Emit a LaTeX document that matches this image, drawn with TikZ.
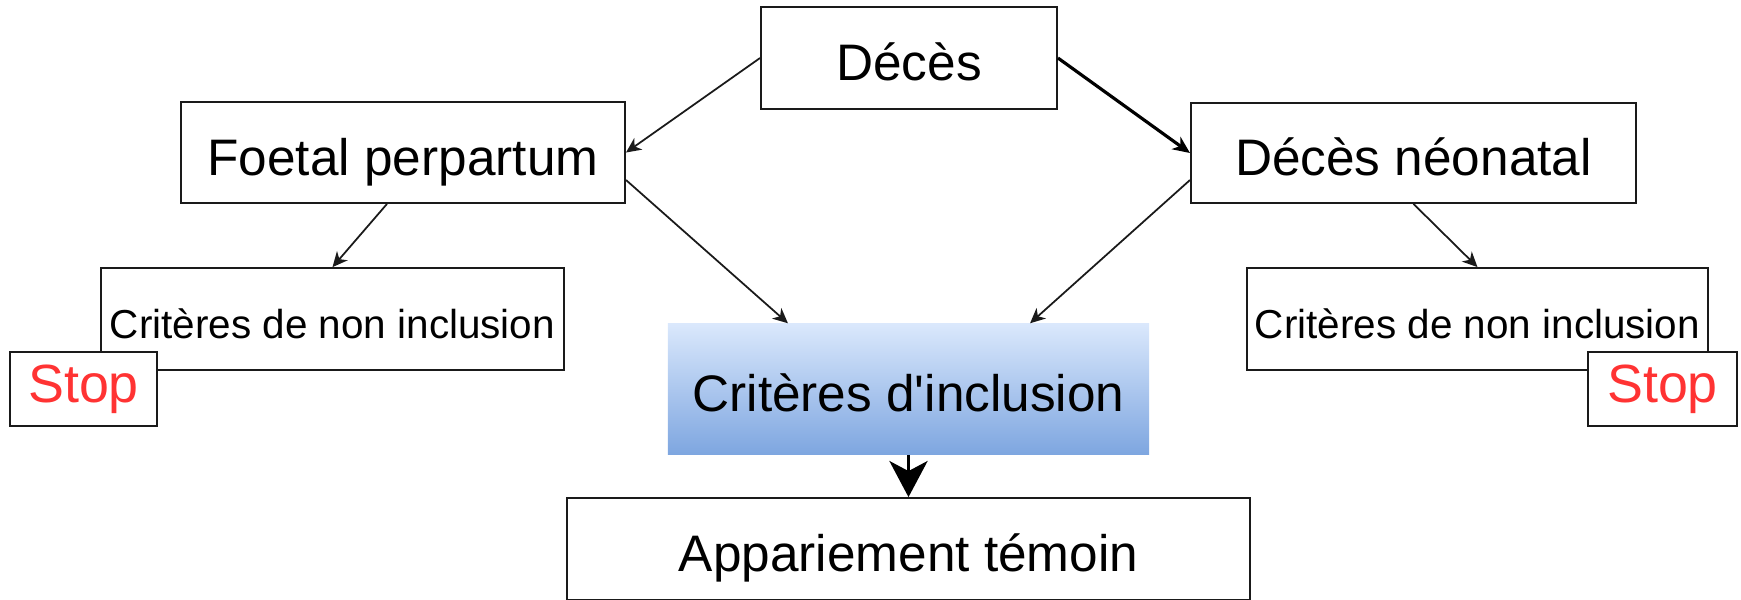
\documentclass[tikz,border=0pt]{standalone}
\usepackage{fontspec}
\setmainfont{Liberation Sans}
\newfontfamily\rawquotefont{Liberation Sans}
\usetikzlibrary{arrows.meta,calc}
\definecolor{inclTop}{HTML}{DAE8FC}
\definecolor{inclBot}{HTML}{7EA6E0}
\definecolor{stopRed}{HTML}{FF3333}
\definecolor{lineGray}{HTML}{1A1A1A}
\begin{document}
\begin{tikzpicture}[x=0.01cm,y=-0.01cm,
  box/.style={draw=lineGray, line width=0.5pt, fill=white, inner sep=0pt,
    text height=13.05pt, text depth=0pt,
    font=\fontsize{14.6}{17}\selectfont},
  smallbox/.style={box, text height=10.8pt, font=\fontsize{11.5}{13}\selectfont},
  stopbox/.style={draw=lineGray, line width=0.5pt, fill=white, inner sep=0pt,
    text=stopRed, font=\fontsize{15.3}{18}\selectfont,
    minimum height=0.74cm},
  inclbox/.style={draw=none, inner sep=0pt, top color=inclTop, bottom color=inclBot,
    text height=13.05pt, text depth=0pt,
    font=\fontsize{14.6}{17}\selectfont},
  conn/.style={draw=lineGray, line width=0.5pt,
    -{Stealth[length=0.15cm, width=0.14cm, inset=0.045cm]}},
  thickconn/.style={draw=black, line width=0.9pt,
    -{Stealth[length=0.17cm, width=0.15cm, inset=0.05cm]}},
  bigconn/.style={draw=black, line width=1.1pt,
    -{Stealth[length=0.36cm, width=0.38cm, inset=0.1cm]}}
]
\useasboundingbox (0,0) rectangle (1741,599);

\node[box, minimum width=2.96cm, minimum height=1.02cm] (deces) at (909,58) {Décès};
\node[box, minimum width=4.44cm, minimum height=1.01cm] (foetal) at (403,152.5) {Foetal perpartum};
\node[box, minimum width=4.45cm, minimum height=1.00cm] (neo) at (1413.5,153) {Décès néonatal};
\node[smallbox, minimum width=4.63cm, minimum height=1.02cm] (nonL) at (332.5,319) {Critères de non inclusion};
\node[smallbox, minimum width=4.61cm, minimum height=1.02cm] (nonR) at (1477.5,319) {Critères de non inclusion};
\node[stopbox, minimum width=1.47cm] (stopL) at (83.5,389) {\raisebox{0.07cm}{Stop}};
\node[stopbox, minimum width=1.49cm] (stopR) at (1662.5,389) {\raisebox{0.07cm}{Stop}};
\node[inclbox, minimum width=4.81cm, minimum height=1.30cm] (incl) at (908.5,389) {Critères d{\rawquotefont '}inclusion};
\node[box, minimum width=6.83cm, minimum height=1.02cm] (app) at (908.5,549) {Appariement témoin};

\draw[conn] (deces.west) -- (foetal.east);
\draw[thickconn] (deces.east) -- (neo.west);
\draw[conn] ([xshift=-0.16cm]foetal.south) -- (nonL.north);
\draw[conn] ([yshift=-0.275cm]foetal.east) -- ([xshift=-1.205cm]incl.north);
\draw[conn] ([yshift=-0.27cm]neo.west) -- ([xshift=1.215cm]incl.north);
\draw[conn] (neo.south) -- (nonR.north);
\draw[bigconn] (incl.south) -- (app.north);
\end{tikzpicture}
\end{document}
